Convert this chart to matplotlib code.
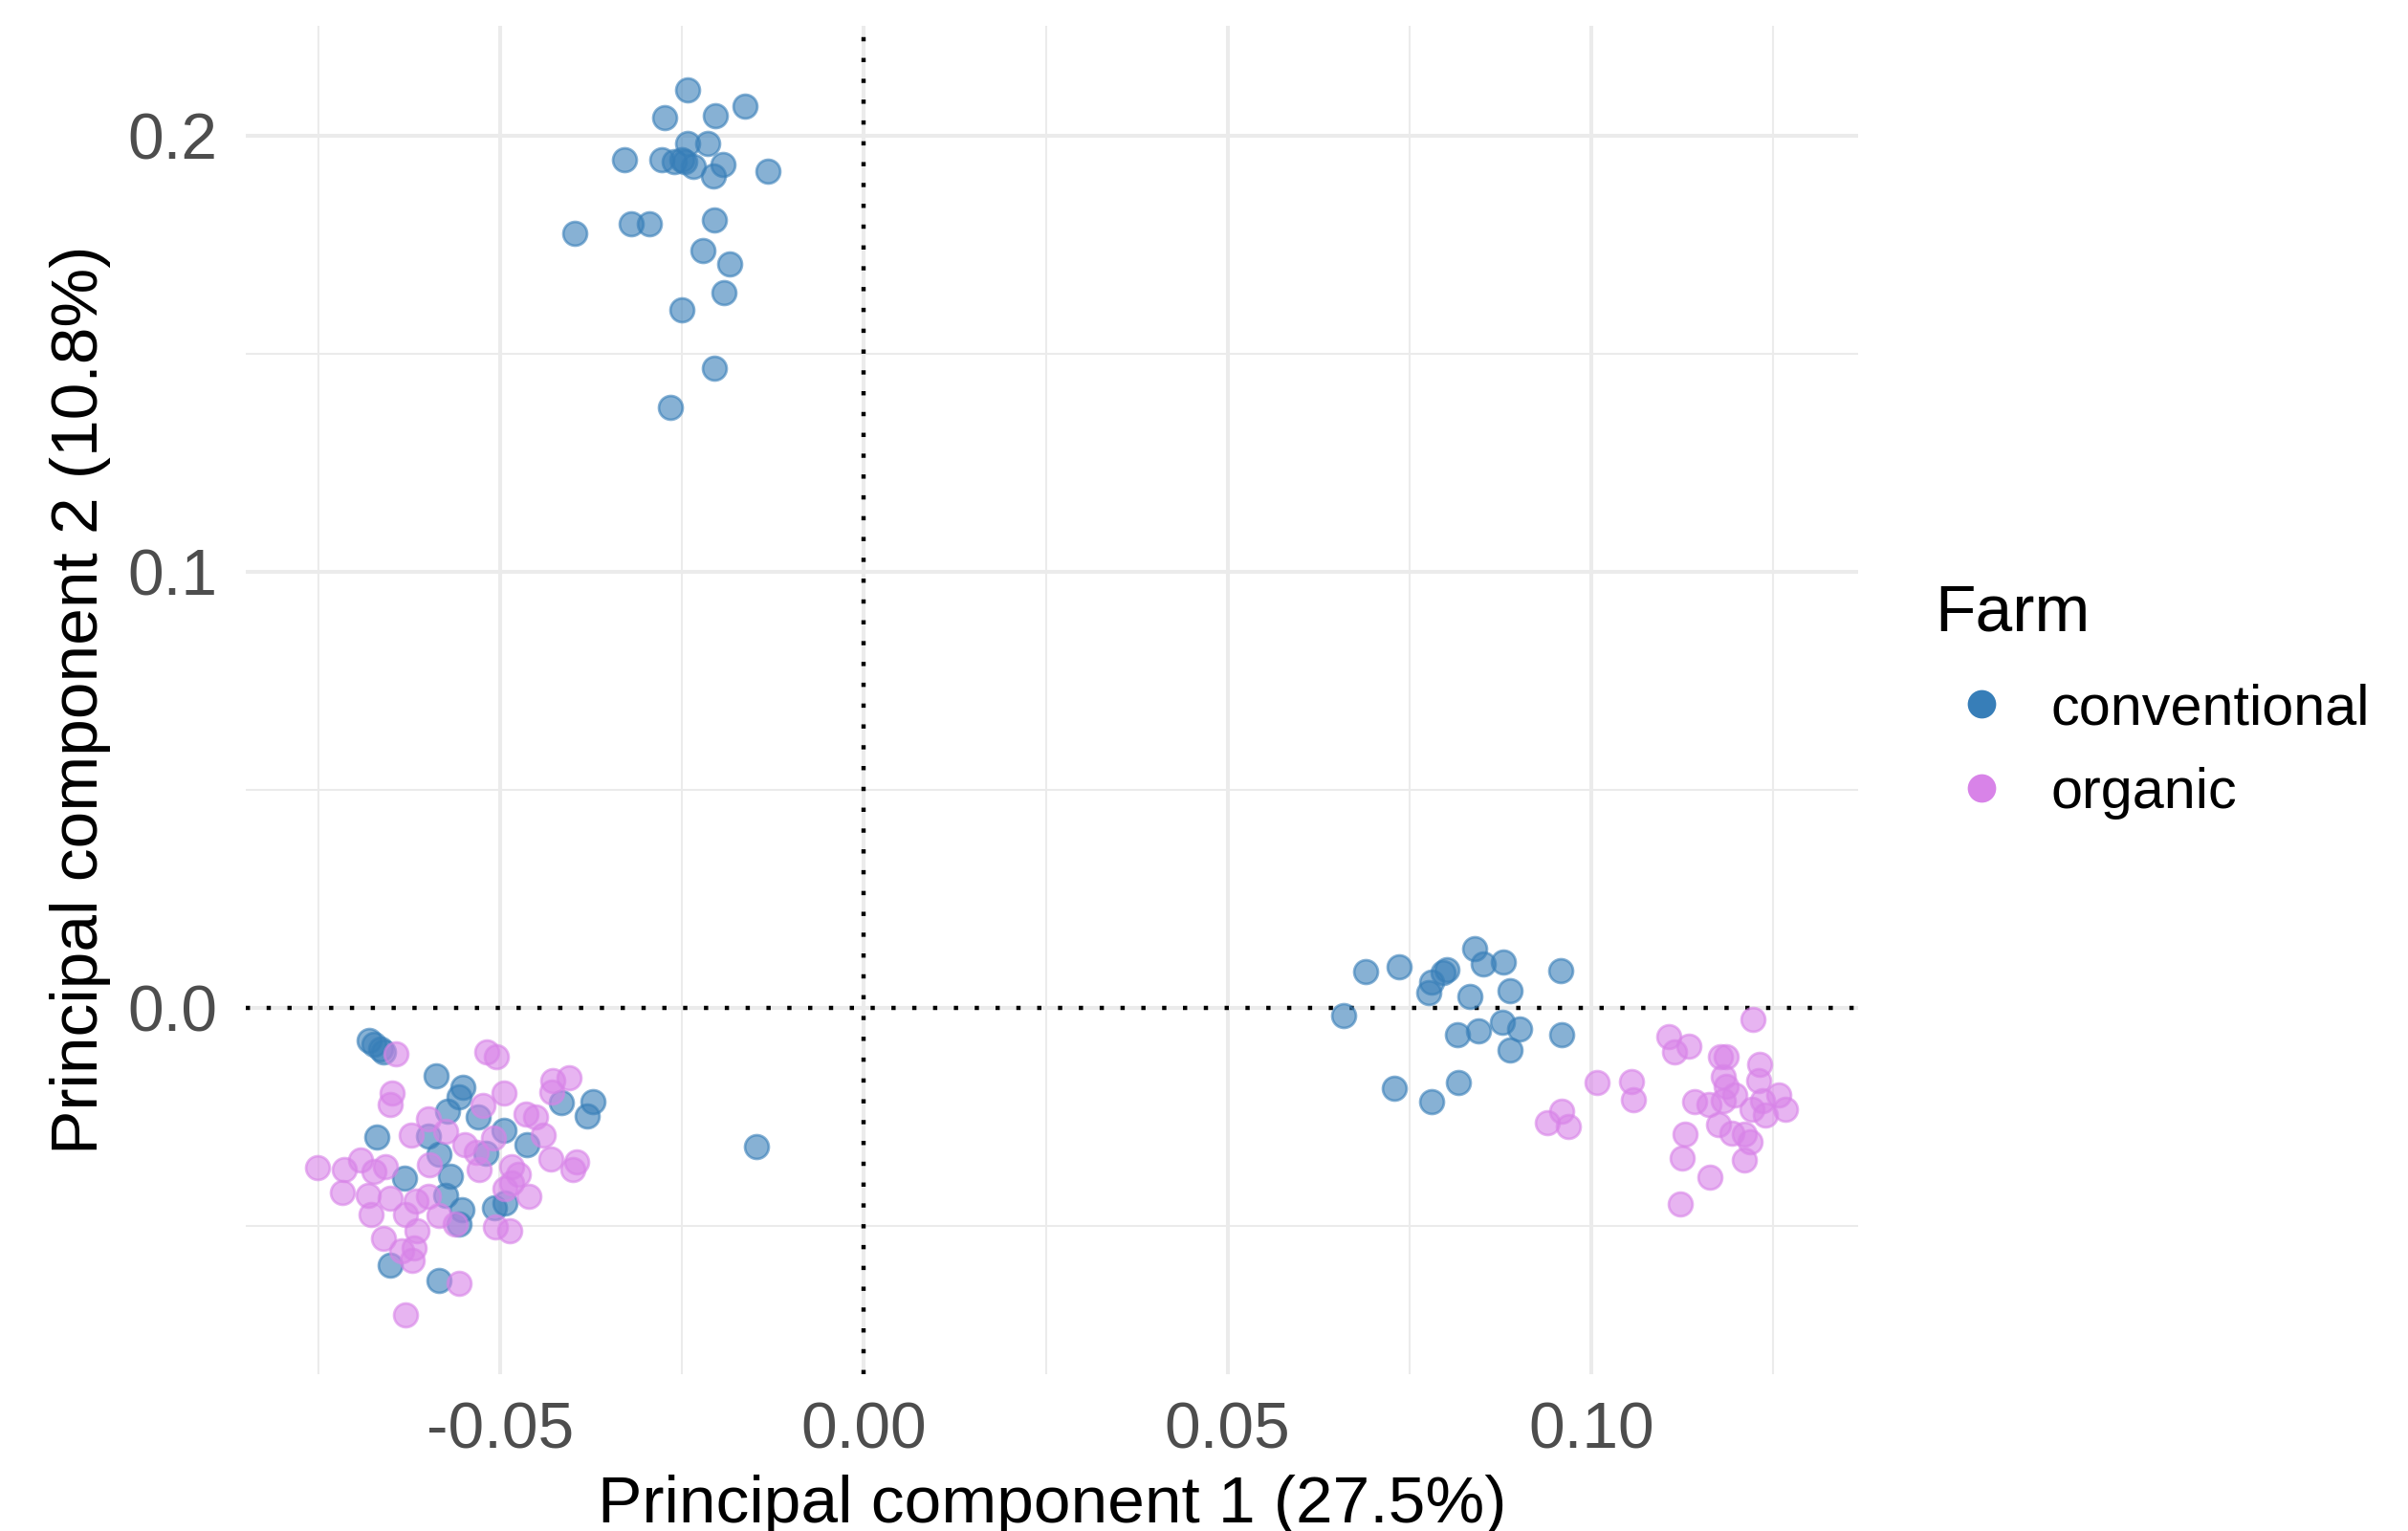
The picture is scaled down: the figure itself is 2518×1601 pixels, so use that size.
"""PCA scatter of samples, coloured by farm type (ggplot-style minimal theme)."""

import matplotlib
matplotlib.use('Agg')
import matplotlib.pyplot as plt
from matplotlib.lines import Line2D
from matplotlib.ticker import MultipleLocator, FormatStrFormatter

plt.rcParams['font.family'] = ['Liberation Sans', 'DejaVu Sans']
plt.rcParams['axes.unicode_minus'] = False

# ---------------------------------------------------------------------------
# Data
# ---------------------------------------------------------------------------

conv_pc1 = [
    # upper cluster
    -0.0243, -0.0274, -0.0204, -0.0164, -0.0242, -0.0215, -0.0329, -0.0278,
    -0.0261, -0.0250, -0.0246, -0.0234, -0.0194, -0.0207, -0.0132, -0.0398,
    -0.0320, -0.0295, -0.0206, -0.0222, -0.0185, -0.0193, -0.0251, -0.0206,
    -0.0266,
    # lower-left cluster
    -0.0681, -0.0674, -0.0665, -0.0660, -0.0588, -0.0552, -0.0557, -0.0573,
    -0.0530, -0.0416, -0.0373, -0.0381, -0.0670, -0.0599, -0.0495, -0.0464,
    -0.0584, -0.0520, -0.0632, -0.0568, -0.0575, -0.0553, -0.0508, -0.0493,
    -0.0652, -0.0584, -0.0557, -0.0148,
    # right cluster
    0.0690, 0.0736, 0.0660, 0.0802, 0.0781, 0.0777, 0.0840, 0.0852,
    0.0879, 0.0833, 0.0889, 0.0958, 0.0816, 0.0845, 0.0878, 0.0901,
    0.0889, 0.0960, 0.0729, 0.0781, 0.0817, 0.0796,
]
conv_pc2 = [
    0.2106, 0.2041, 0.2045, 0.2067, 0.1982, 0.1983, 0.1946, 0.1944,
    0.1940, 0.1944, 0.1940, 0.1929, 0.1934, 0.1907, 0.1918, 0.1777,
    0.1799, 0.1799, 0.1806, 0.1737, 0.1705, 0.1640, 0.1600, 0.1467,
    0.1376,
    -0.0074, -0.0083, -0.0094, -0.0101, -0.0156, -0.0183, -0.0203, -0.0238,
    -0.0251, -0.0218, -0.0214, -0.0249, -0.0297, -0.0295, -0.0280, -0.0313,
    -0.0335, -0.0333, -0.0390, -0.0386, -0.0430, -0.0463, -0.0458, -0.0448,
    -0.0591, -0.0624, -0.0496, -0.0318,
    0.0084, 0.0095, -0.0017, 0.0088, 0.0058, 0.0035, 0.0135, 0.0100,
    0.0106, 0.0026, 0.0040, 0.0086, -0.0062, -0.0052, -0.0033, -0.0049,
    -0.0097, -0.0061, -0.0184, -0.0214, -0.0172, 0.0080,
]

org_pc1 = [
    # left cluster
    -0.0644, -0.0518, -0.0505, -0.0649, -0.0651, -0.0495, -0.0428, -0.0405,
    -0.0429, -0.0524, -0.0599, -0.0623, -0.0575, -0.0465, -0.0452, -0.0441,
    -0.0549, -0.0509, -0.0533, -0.0751, -0.0715, -0.0692, -0.0674, -0.0658,
    -0.0597, -0.0529, -0.0485, -0.0475, -0.0430, -0.0395, -0.0400, -0.0717,
    -0.0682, -0.0651, -0.0616, -0.0599, -0.0494, -0.0485, -0.0461, -0.0678,
    -0.0630, -0.0584, -0.0562, -0.0507, -0.0487, -0.0614, -0.0660, -0.0619,
    -0.0636, -0.0621, -0.0557, -0.0630,
    # right cluster
    0.1222, 0.1106, 0.1134, 0.1115, 0.1177, 0.1186, 0.1232, 0.1230,
    0.1008, 0.1055, 0.1058, 0.1182, 0.1186, 0.1197, 0.1142, 0.1162,
    0.1182, 0.1221, 0.1258, 0.1267, 0.1239, 0.1236, 0.1175, 0.1193,
    0.1210, 0.1219, 0.1210, 0.1129, 0.1125, 0.1163, 0.1122, 0.0939,
    0.0960, 0.0968,
]
org_pc2 = [
    -0.0105, -0.0101, -0.0112, -0.0196, -0.0221, -0.0196, -0.0167, -0.0161,
    -0.0192, -0.0224, -0.0254, -0.0291, -0.0284, -0.0243, -0.0251, -0.0291,
    -0.0313, -0.0298, -0.0331, -0.0366, -0.0371, -0.0349, -0.0375, -0.0364,
    -0.0360, -0.0371, -0.0364, -0.0382, -0.0346, -0.0353, -0.0371, -0.0423,
    -0.0430, -0.0437, -0.0444, -0.0433, -0.0415, -0.0401, -0.0433, -0.0474,
    -0.0474, -0.0477, -0.0496, -0.0503, -0.0510, -0.0510, -0.0529, -0.0550,
    -0.0558, -0.0580, -0.0631, -0.0704,
    -0.0026, -0.0066, -0.0088, -0.0102, -0.0113, -0.0111, -0.0129, -0.0166,
    -0.0172, -0.0170, -0.0211, -0.0159, -0.0181, -0.0199, -0.0216, -0.0221,
    -0.0213, -0.0232, -0.0199, -0.0232, -0.0246, -0.0213, -0.0268, -0.0287,
    -0.0290, -0.0308, -0.0349, -0.0290, -0.0345, -0.0389, -0.0450, -0.0264,
    -0.0236, -0.0271,
]

groups = ['conventional', 'organic']
colors = {'conventional': '#377EB8', 'organic': '#D883E8'}

x_label = 'Principal component 1 (27.5%)'
y_label = 'Principal component 2 (10.8%)'
legend_title = 'Farm'

# ---------------------------------------------------------------------------
# Plot
# ---------------------------------------------------------------------------

W, H, DPI = 2518, 1601, 200
fig = plt.figure(figsize=(W / DPI, H / DPI), dpi=DPI)
ax = fig.add_axes([257 / W, 1 - 1437 / H, (1943 - 257) / W, (1437 - 27) / H])

data = {'conventional': (conv_pc1, conv_pc2), 'organic': (org_pc1, org_pc2)}
for g in groups:
    xs, ys = data[g]
    ax.scatter(xs, ys, s=80, color=colors[g], alpha=0.6,
               edgecolors=colors[g], linewidths=1.0, zorder=3)

# reference lines through the origin
dots = (0, (1, 3.9))
ax.axhline(0, color='black', linewidth=1.6, linestyle=dots, zorder=2)
ax.axvline(0, color='black', linewidth=1.6, linestyle=dots, zorder=2)

ax.set_xlim(-0.0850, 0.1367)
ax.set_ylim(-0.0840, 0.2252)

ax.xaxis.set_major_locator(MultipleLocator(0.05))
ax.xaxis.set_minor_locator(MultipleLocator(0.025))
ax.yaxis.set_major_locator(MultipleLocator(0.1))
ax.yaxis.set_minor_locator(MultipleLocator(0.05))
ax.xaxis.set_major_formatter(FormatStrFormatter('%.2f'))
ax.yaxis.set_major_formatter(FormatStrFormatter('%.1f'))

ax.grid(True, which='major', color='#EBEBEB', linewidth=1.45, zorder=0)
ax.grid(True, which='minor', color='#EBEBEB', linewidth=0.75, zorder=0)
ax.set_axisbelow(True)
for sp in ax.spines.values():
    sp.set_visible(False)

ax.tick_params(which='both', length=0)
ax.tick_params(axis='x', labelsize=24.4, labelcolor='#4D4D4D', pad=10)
ax.tick_params(axis='y', labelsize=24.4, labelcolor='#4D4D4D', pad=10.5)

ax.set_xlabel(x_label, fontsize=25, color='black')
ax.xaxis.label.set_va('baseline')
ax.xaxis.set_label_coords(0.5, (1437 - 1592) / 1410)
ax.set_ylabel(y_label, fontsize=25, color='black')
ax.yaxis.label.set_va('baseline')
ax.yaxis.set_label_coords((102 - 257) / 1686, 0.5)

handles = [Line2D([], [], linestyle='none', marker='o', markersize=9.7,
                  markerfacecolor=colors[g], markeredgecolor=colors[g])
           for g in groups]
leg = fig.legend(handles, groups, loc='upper left',
                 bbox_to_anchor=(2023 / W, 1 - 610 / H),
                 frameon=False, fontsize=21.4, title=legend_title,
                 title_fontsize=25, alignment='left', borderpad=0,
                 borderaxespad=0, handlelength=1.65, handletextpad=0.39,
                 labelspacing=0.55)
# a bit more room between the title and the keys, like ggplot
leg._legend_box.sep = 14.5

fig.savefig('out.png', dpi=DPI)
plt.close(fig)
